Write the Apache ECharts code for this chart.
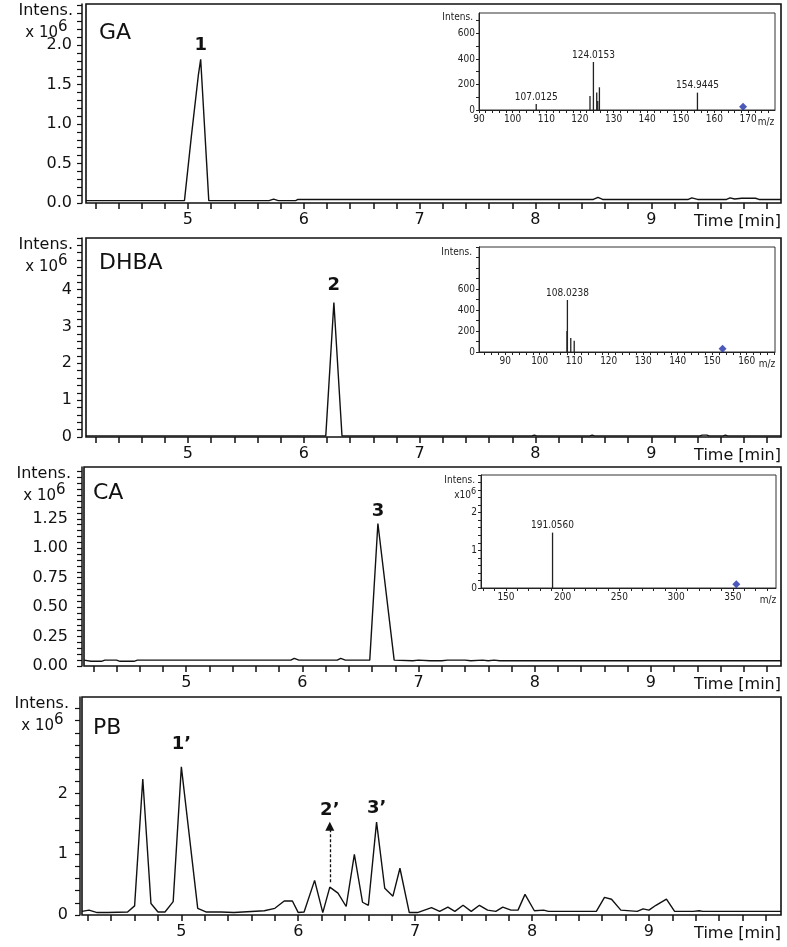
<!DOCTYPE html>
<html>
<head>
<meta charset="utf-8">
<script src="https://cdn.jsdelivr.net/npm/echarts@6/dist/echarts.min.js"></script>
<style>
  html, body { margin: 0; padding: 0; background: #fff; }
  #chart { width: 787px; height: 947px; }
</style>
</head>
<body>
<div id="chart"></div>
<script>
// retention time axis (min)
const timeLabels = [5, 6, 7, 8, 9];

// extracted ion chromatograms, [time, intensity x10^6]
const gaTrace = [
  [4.12, 0.03], [4.97, 0.03], [5.03, 0.85], [5.09, 1.62], [5.11, 1.82], [5.18, 0.03],
  [5.70, 0.03], [5.74, 0.05], [5.78, 0.03], [5.93, 0.03], [5.95, 0.045], [8.50, 0.045],
  [8.54, 0.07], [8.58, 0.045], [9.32, 0.045], [9.35, 0.065], [9.40, 0.045], [9.65, 0.045],
  [9.68, 0.065], [9.72, 0.05], [9.78, 0.06], [9.90, 0.06], [9.93, 0.045], [10.12, 0.045]
];
const dhbaTrace = [
  [4.12, 0.03], [6.19, 0.03], [6.26, 3.65], [6.33, 0.03], [7.97, 0.03], [7.99, 0.05],
  [8.01, 0.03], [8.47, 0.03], [8.49, 0.05], [8.51, 0.03], [9.42, 0.03], [9.44, 0.05],
  [9.48, 0.05], [9.50, 0.03], [9.62, 0.03], [9.64, 0.05], [9.66, 0.03], [10.12, 0.03]
];
const caTrace = [
  [4.12, 0.05], [4.18, 0.04], [4.27, 0.04], [4.30, 0.05], [4.40, 0.05], [4.43, 0.04],
  [4.55, 0.04], [4.58, 0.05], [5.90, 0.05], [5.93, 0.065], [5.97, 0.05], [6.30, 0.05],
  [6.33, 0.065], [6.37, 0.05], [6.58, 0.05], [6.65, 1.21], [6.79, 0.05], [6.95, 0.045],
  [7.00, 0.05], [7.10, 0.045], [7.20, 0.045], [7.25, 0.05], [7.40, 0.05], [7.45, 0.045],
  [7.55, 0.05], [7.60, 0.045], [7.65, 0.05], [7.70, 0.045], [10.12, 0.045]
];
const pbTrace = [
  [4.15, 0.06], [4.16, 0.07], [4.21, 0.08], [4.28, 0.04], [4.37, 0.04], [4.54, 0.05],
  [4.60, 0.15], [4.67, 2.24], [4.74, 0.19], [4.80, 0.05], [4.86, 0.05], [4.93, 0.22],
  [5.00, 2.44], [5.14, 0.11], [5.21, 0.05], [5.34, 0.05], [5.45, 0.04], [5.71, 0.07],
  [5.80, 0.11], [5.88, 0.23], [5.95, 0.23], [6.00, 0.04], [6.05, 0.05], [6.14, 0.57],
  [6.21, 0.04], [6.27, 0.46], [6.34, 0.36], [6.41, 0.14], [6.48, 1.00], [6.55, 0.21],
  [6.60, 0.16], [6.67, 1.53], [6.74, 0.44], [6.81, 0.31], [6.87, 0.77], [6.95, 0.04],
  [7.02, 0.04], [7.14, 0.12], [7.21, 0.06], [7.28, 0.13], [7.34, 0.06], [7.41, 0.16],
  [7.48, 0.06], [7.55, 0.16], [7.62, 0.08], [7.69, 0.06], [7.75, 0.13], [7.82, 0.08],
  [7.88, 0.08], [7.94, 0.34], [8.02, 0.07], [8.10, 0.08], [8.14, 0.06], [8.55, 0.06],
  [8.62, 0.29], [8.68, 0.26], [8.76, 0.08], [8.90, 0.06], [8.95, 0.10], [9.00, 0.08],
  [9.06, 0.16], [9.15, 0.26], [9.22, 0.06], [9.38, 0.06], [9.43, 0.07], [9.46, 0.06],
  [10.13, 0.06]
];

// y tick labels of the chromatograms
const gaYLabels = [0, 0.5, 1.0, 1.5, 2.0];
const dhbaYLabels = [0, 1, 2, 3, 4];
const caYLabels = [0, 0.25, 0.5, 0.75, 1.0, 1.25];
const pbYLabels = [0, 1, 2];

// MS spectra (insets)
const gaMz = [107.0125, 123.0, 124.0153, 125.0, 125.3, 125.8, 154.9445];
const gaInt = [47, 110, 376, 138, 70, 178, 136];
const gaTags = ["107.0125", "", "124.0153", "", "", "", "154.9445"];
const gaPrecursor = [168.5, 26];
const gaMzLabels = [90, 100, 110, 120, 130, 140, 150, 160, 170];
const gaIntLabels = [0, 200, 400, 600];

const dhbaMz = [107.9, 108.0238, 109.0, 110.0];
const dhbaInt = [200, 495, 133, 108];
const dhbaTags = ["", "108.0238", "", ""];
const dhbaPrecursor = [153.0, 30];
const dhbaMzLabels = [90, 100, 110, 120, 130, 140, 150, 160];
const dhbaIntLabels = [0, 200, 400, 600];

const caMz = [191.0560];
const caInt = [1.47];
const caTags = ["191.0560"];
const caPrecursor = [353.0, 0.1];
const caMzLabels = [150, 200, 250, 300, 350];
const caIntLabels = [0, 1, 2];

const FONT = '"DejaVu Sans", sans-serif';
const NARROW = '"Liberation Sans Narrow", "DejaVu Sans Condensed", sans-serif';
const INK = "#111";

function steps(a, b, s) {
  const out = [];
  for (let v = a; v <= b + 1e-9; v += s) out.push(+v.toFixed(4));
  return out;
}

const panels = [
  { name: "GA", trace: gaTrace, left: 86, top: 4, height: 199, xMin: 4.12, xMax: 10.12,
    yMax: 2.52, yLabels: gaYLabels, yMinor: 0.1, digits: 1, yOffset: 4, yMargin: 10,
    nameX: 99, nameDy: 29,
    peaks: [{ text: "1", at: [5.11, 1.82], dy: -14 }] },
  { name: "DHBA", trace: dhbaTrace, left: 86, top: 238, height: 199, xMin: 4.12, xMax: 10.12,
    yMax: 5.4, yLabels: dhbaYLabels, yMinor: 0.2, digits: 0, yOffset: 4, yMargin: 10,
    nameX: 99, nameDy: 25,
    peaks: [{ text: "2", at: [6.26, 3.65], dy: -17 }] },
  { name: "CA", trace: caTrace, left: 84, top: 467, height: 199, xMin: 4.12, xMax: 10.12,
    yMax: 1.69, yLabels: caYLabels, yMinor: 0.05, digits: 2, yOffset: 2, yMargin: 14,
    nameX: 93, nameDy: 26,
    peaks: [{ text: "3", at: [6.65, 1.21], dy: -12 }] },
  { name: "PB", trace: pbTrace, left: 82, top: 697, height: 218, xMin: 4.15, xMax: 10.13,
    yMax: 3.59, yLabels: pbYLabels, yMinor: 0.2, digits: 0, yOffset: 2, yMargin: 12,
    nameX: 93, nameDy: 31,
    peaks: [{ text: "1\u2019", at: [5.00, 2.44], dy: -23 },
            { text: "2\u2019", at: [6.27, 1.48], dy: -15 },
            { text: "3\u2019", at: [6.67, 1.53], dy: -14 }],
    arrow: [[6.27, 0.54], [6.27, 1.46]] }
];

const insets = [
  { left: 479, top: 13, width: 296, height: 97, xMin: 90, xMax: 178, xLabels: gaMzLabels,
    xTicks: steps(90, 176, 2), yMax: 760, yLabels: gaIntLabels, yTicks: steps(0, 700, 100),
    mz: gaMz, inten: gaInt, tags: gaTags, prec: gaPrecursor, sci: false,
    intensPos: [473, 17], mzPos: [766, 122] },
  { left: 479, top: 247, width: 296, height: 105, xMin: 82.4, xMax: 168.2, xLabels: dhbaMzLabels,
    xTicks: steps(84, 168, 2), yMax: 1000, yLabels: dhbaIntLabels, yTicks: steps(0, 1000, 100),
    mz: dhbaMz, inten: dhbaInt, tags: dhbaTags, prec: dhbaPrecursor, sci: false,
    intensPos: [472, 252], mzPos: [767, 364] },
  { left: 481, top: 475, width: 295, height: 113, xMin: 128, xMax: 388, xLabels: caMzLabels,
    xTicks: steps(130, 380, 10), yMax: 3.0, yLabels: caIntLabels, yTicks: steps(0, 3.0, 0.2),
    mz: caMz, inten: caInt, tags: caTags, prec: caPrecursor, sci: true,
    intensPos: [475, 480], mzPos: [768, 600] }
];

const grids = [];
const xAxes = [];
const yAxes = [];
const series = [];
const graphics = [];

panels.forEach((p, i) => {
  grids.push({ left: p.left, top: p.top, width: 781 - p.left, height: p.height,
    show: true, borderColor: INK, borderWidth: 1.6 });
  xAxes.push({
    gridIndex: i, type: "value", min: p.xMin, max: p.xMax, offset: 1,
    axisLine: { show: false },
    axisTick: { show: true, customValues: steps(4.2, 10.0, 0.2), length: 6,
      lineStyle: { color: INK, width: 1.5 } },
    axisLabel: { customValues: timeLabels, margin: 8, fontSize: 16, color: INK, fontFamily: FONT },
    splitLine: { show: false }
  });
  yAxes.push({
    gridIndex: i, type: "value", min: 0, max: p.yMax, offset: p.yOffset,
    axisLine: { show: true, lineStyle: { color: INK, width: 1.5 } },
    axisTick: { show: true, customValues: steps(0, p.yMax, p.yMinor), length: 5,
      lineStyle: { color: INK, width: 1.2 } },
    axisLabel: { customValues: p.yLabels, formatter: (v) => v.toFixed(p.digits),
      margin: p.yMargin, fontSize: 16, color: INK, fontFamily: FONT },
    splitLine: { show: false }
  });
  const s = {
    type: "line", xAxisIndex: i, yAxisIndex: i, data: p.trace,
    symbol: "none", lineStyle: { color: INK, width: 1.4 }, z: 3,
    markPoint: {
      symbol: "circle", symbolSize: 0.1, silent: true,
      itemStyle: { color: "transparent" },
      label: { show: true, position: "inside", fontSize: 18, fontWeight: "bold",
        color: INK, fontFamily: FONT },
      data: p.peaks.map((k) => ({ coord: k.at, label: { formatter: k.text, offset: [0, k.dy] } }))
    }
  };
  if (p.arrow) {
    s.markLine = {
      silent: true, symbol: ["none", "triangle"], symbolSize: 9, symbolRotate: 0,
      itemStyle: { color: INK },
      lineStyle: { type: [3, 2], color: INK, width: 1.3 }, label: { show: false },
      data: [[{ coord: p.arrow[0] }, { coord: p.arrow[1] }]]
    };
  }
  series.push(s);

  graphics.push(
    { type: "text", x: p.nameX, y: p.top + p.nameDy,
      style: { text: p.name, font: "22px " + FONT, fill: INK, textVerticalAlign: "middle" } },
    { type: "text", x: p.left - 13, y: p.top + 7,
      style: { text: "Intens.", font: "16px " + FONT, fill: INK, textAlign: "right", textVerticalAlign: "middle" } },
    { type: "text", x: p.left - 28, y: p.top + 29,
      style: { text: "x 10", font: "15px " + FONT, fill: INK, textAlign: "right", textVerticalAlign: "middle" } },
    { type: "text", x: p.left - 28, y: p.top + 23,
      style: { text: "6", font: "15px " + FONT, fill: INK, textAlign: "left", textVerticalAlign: "middle" } },
    { type: "text", x: 781, y: p.top + p.height + 19,
      style: { text: "Time [min]", font: "16px " + FONT, fill: INK, textAlign: "right", textVerticalAlign: "middle" } }
  );
});

insets.forEach((m, j) => {
  const gi = panels.length + j;
  grids.push({ left: m.left, top: m.top, width: m.width, height: m.height,
    show: true, borderColor: "#333", borderWidth: 1, backgroundColor: "#fff" });
  xAxes.push({
    gridIndex: gi, type: "value", min: m.xMin, max: m.xMax,
    axisLine: { show: true, lineStyle: { color: "#222", width: 1 } },
    axisTick: { show: true, customValues: m.xTicks, length: 3, lineStyle: { color: "#222" } },
    axisLabel: { customValues: m.xLabels, margin: 4, fontSize: 10, color: "#222", fontFamily: NARROW },
    splitLine: { show: false }
  });
  yAxes.push({
    gridIndex: gi, type: "value", min: 0, max: m.yMax,
    axisLine: { show: true, lineStyle: { color: "#222", width: 1 } },
    axisTick: { show: true, customValues: m.yTicks, length: 3, lineStyle: { color: "#222" } },
    axisLabel: { customValues: m.yLabels, margin: 4, fontSize: 10, color: "#222", fontFamily: NARROW },
    splitLine: { show: false }
  });
  series.push({
    type: "bar", xAxisIndex: gi, yAxisIndex: gi, barWidth: 1.3, z: 4,
    itemStyle: { color: "#222" },
    label: { show: false, position: "top", distance: 2, fontSize: 10, color: "#222", fontFamily: NARROW },
    data: m.mz.map((x, k) => ({
      value: [x, m.inten[k]],
      label: m.tags[k] ? { show: true, formatter: m.tags[k] } : { show: false }
    }))
  });
  series.push({
    type: "scatter", xAxisIndex: gi, yAxisIndex: gi, symbol: "diamond", symbolSize: 8, z: 5,
    itemStyle: { color: "#1f2fa8" }, data: [m.prec]
  });
  graphics.push(
    { type: "text", x: m.intensPos[0], y: m.intensPos[1],
      style: { text: "Intens.", font: "10px " + NARROW, fill: "#222", textAlign: "right", textVerticalAlign: "middle" } },
    { type: "text", x: m.mzPos[0], y: m.mzPos[1],
      style: { text: "m/z", font: "10px " + NARROW, fill: "#222", textAlign: "center", textVerticalAlign: "middle" } }
  );
  if (m.sci) {
    graphics.push(
      { type: "text", x: m.intensPos[0] - 4, y: m.intensPos[1] + 15,
        style: { text: "x10", font: "10px " + NARROW, fill: "#222", textAlign: "right", textVerticalAlign: "middle" } },
      { type: "text", x: m.intensPos[0] - 4, y: m.intensPos[1] + 12,
        style: { text: "6", font: "9px " + NARROW, fill: "#222", textAlign: "left", textVerticalAlign: "middle" } }
    );
  }
});

const chart = echarts.init(document.getElementById("chart"));
chart.setOption({
  animation: false,
  backgroundColor: "#fff",
  grid: grids,
  xAxis: xAxes,
  yAxis: yAxes,
  series,
  graphic: graphics
});
</script>
</body>
</html>
